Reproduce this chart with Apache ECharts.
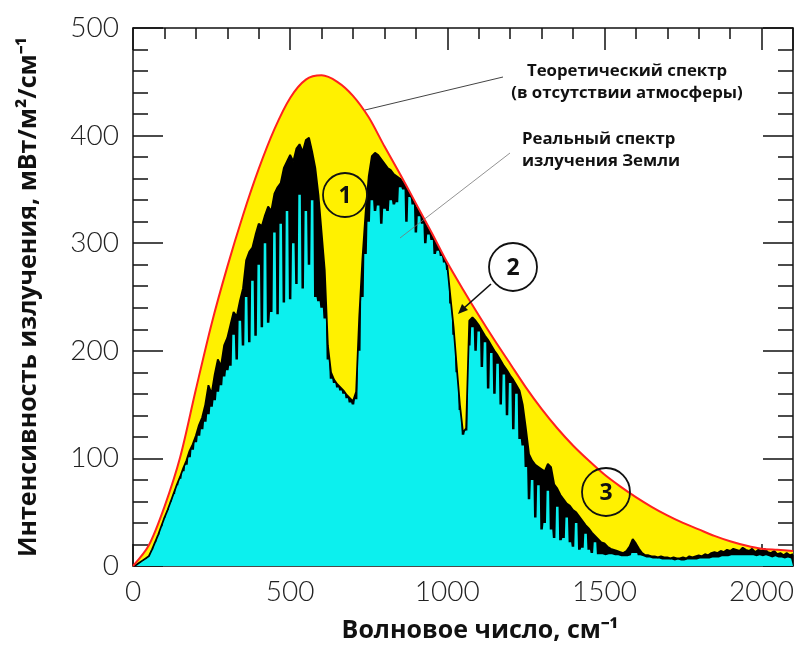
<!DOCTYPE html>
<html>
<head>
<meta charset="utf-8">
<script src="https://cdn.jsdelivr.net/npm/echarts@6/dist/echarts.min.js"></script>
<style>
  html, body { margin: 0; padding: 0; background: #fff; }
  #chart { width: 803px; height: 650px; }
</style>
</head>
<body>
<div id="chart"></div>
<script>
// theoretical spectrum (no atmosphere), read every 50 cm-1
const theoryWn = [0, 50, 100, 150, 200, 250, 300, 350, 400, 450, 500, 550, 600, 650, 700,
  750, 800, 850, 900, 950, 1000, 1050, 1100, 1150, 1200, 1250, 1300, 1350, 1400, 1450,
  1500, 1550, 1600, 1650, 1700, 1750, 1800, 1850, 1900, 1950, 2000, 2050, 2100];
const theoryVal = [0, 19, 55, 101, 164, 225, 278, 326, 369, 406, 435, 452, 456, 450, 437,
  417, 390, 364, 337, 310, 282, 257, 233, 210, 188, 166, 146, 128, 112, 98,
  85, 74, 64, 55, 47, 40, 34, 28, 23, 19, 16, 15, 14];

// real spectrum, upper edge of the lines, every 10 cm-1 (0 ... 2100)
const realTop = [
  0, 1, 3, 5, 7, 9, 15, 22, 29, 37,               // 0
  45, 52, 60, 68, 76, 83, 91, 98, 107, 113,       // 100
  121, 131, 138, 150, 168, 160, 178, 192, 186, 205, // 200
  212, 224, 236, 232, 246, 258, 284, 292, 296, 308, // 300
  318, 316, 326, 334, 330, 346, 352, 356, 370, 376, // 400
  382, 376, 388, 392, 385, 396, 398, 385, 370, 345, // 500
  310, 275, 205, 180, 173, 169, 166, 163, 159, 156, // 600
  153, 162, 232, 285, 328, 362, 381, 384, 382, 378, // 700
  374, 370, 368, 364, 362, 360, 356, 351, 346, 340, // 800
  334, 329, 324, 318, 313, 307, 302, 297, 291, 286, // 900
  279, 250, 222, 185, 150, 124, 128, 228, 231, 228, // 1000
  224, 219, 214, 210, 205, 200, 196, 191, 186, 182, // 1100
  177, 173, 168, 163, 150, 128, 104, 98, 94, 92,    // 1200
  90, 88, 95, 92, 76, 72, 66, 62, 58, 56,           // 1300
  52, 50, 46, 42, 38, 35, 31, 28, 25, 22,           // 1400
  21, 18, 16, 15, 14, 13, 12, 14, 18, 25,           // 1500
  21, 16, 12, 10, 10, 9, 9, 8, 9, 8,                // 1600
  8, 7, 8, 7, 7, 8, 7, 9, 8, 9,                     // 1700
  10, 9, 11, 10, 12, 13, 12, 14, 13, 15,            // 1800
  14, 16, 15, 14, 17, 15, 14, 16, 13, 15,           // 1900
  14, 16, 13, 12, 14, 11, 12, 10, 12, 10,           // 2000
  11
];
// real spectrum, level the radiation reaches between the lines (same wavenumbers)
const realTrough = [
  0, 1, 3, 5, 7, 9, 15, 22, 29, 37,
  45, 52, 60, 67, 75, 81, 88, 94, 101, 108,
  115, 121, 127, 134, 141, 148, 154, 162, 168, 176,
  182, 186, 215, 192, 228, 205, 250, 208, 265, 214,
  280, 222, 300, 226, 236, 310, 234, 318, 245, 330,
  248, 300, 262, 345, 258, 330, 280, 340, 250, 246,
  240, 230, 192, 174, 170, 166, 163, 160, 156, 152,
  150, 155, 200, 250, 290, 320, 340, 330, 335, 318,
  332, 330, 340, 336, 338, 352, 350, 320, 343, 336,
  310, 325, 318, 300, 308, 303, 290, 293, 288, 282,
  275, 244, 215, 180, 145, 122, 126, 205, 222, 200,
  218, 185, 208, 165, 198, 160, 188, 150, 178, 140,
  170, 127, 160, 118, 112, 92, 62, 80, 45, 75,
  34, 40, 70, 34, 26, 55, 24, 26, 45, 22,
  18, 40, 15, 17, 30, 15, 12, 22, 11, 11,
  10, 11, 11, 10, 10, 9, 9, 9, 10, 12,
  12, 10, 9, 8, 8, 7, 7, 7, 6, 6,
  6, 6, 5, 6, 5, 5, 6, 6, 6, 6,
  7, 7, 7, 7, 8, 8, 8, 9, 9, 9,
  10, 10, 10, 10, 10, 10, 10, 10, 9, 10,
  9, 10, 9, 8, 9, 8, 8, 7, 8, 7,
  8
];

const xTicks = [0, 500, 1000, 1500, 2000];
const yTicks = [0, 100, 200, 300, 400, 500];

const YELLOW = '#fff100';
const CYAN = '#0cf0ee';
const RED = '#ff2020';
const INK = '#111';

const realWn = realTop.map((_, i) => i * 10);
const theoryPts = theoryWn.map((w, i) => [w, theoryVal[i]]);
const topPts = realWn.map((w, i) => [w, realTop[i]]);
// cyan fill: a short flat step at each trough level
// (step kept a bit over 2px wide so the renderer does not drop it)
const cyanPts = [];
realWn.forEach((w, i) => {
  cyanPts.push([Math.max(0, w - 4), realTrough[i]]);
  cyanPts.push([Math.min(2100, w + 4), realTrough[i]]);
});

const tickFont = { fontSize: 28, color: '#222', fontFamily: 'Lato', fontWeight: 300 };
const nameFont = { fontSize: 25, color: '#111', fontFamily: '"Open Sans"', fontWeight: 'bold' };
const line = { color: INK, width: 1.5 };

function xAx(pos, interval, len, extra) {
  return Object.assign({
    type: 'value', position: pos, min: 0, max: 2100, interval: interval,
    axisLine: { show: true, onZero: false, lineStyle: line },
    axisTick: { show: true, inside: true, length: len, lineStyle: line },
    axisLabel: { show: false },
    splitLine: { show: false }
  }, extra || {});
}
function yAx(pos, extra) {
  return Object.assign({
    type: 'value', position: pos, min: 0, max: 500, interval: 100,
    axisLine: { show: true, onZero: false, lineStyle: line },
    axisTick: { show: true, inside: true, length: 30, lineStyle: line },
    minorTick: { show: true, splitNumber: 5, length: 15, lineStyle: line },
    axisLabel: { show: false },
    splitLine: { show: false }
  }, extra || {});
}

const chart = echarts.init(document.getElementById('chart'), null, { renderer: 'canvas' });

const annoFont = 'bold 16.8px "Open Sans"';
const digitFont = 'bold 23px "Open Sans"';

chart.setOption({
  animation: false,
  backgroundColor: '#fff',
  grid: { left: 133, right: 10, top: 28, bottom: 84 },
  xAxis: [
    xAx('bottom', 500, 22, {
      axisLabel: Object.assign({ show: true, margin: 12, showMaxLabel: false,
        formatter: v => (xTicks.indexOf(v) >= 0 ? String(v) : '') }, tickFont),
      name: 'Волновое число, см⁻¹', nameLocation: 'middle', nameGap: 52,
      nameTextStyle: Object.assign({ padding: [0, 0, 0, 34] }, nameFont)
    }),
    xAx('bottom', 100, 11, { axisLine: { show: false, onZero: false } }),
    xAx('top', 500, 22),
    xAx('top', 100, 11, { axisLine: { show: false, onZero: false } })
  ],
  yAxis: [
    yAx('left', {
      axisLabel: Object.assign({ show: true, margin: 14,
        formatter: v => (yTicks.indexOf(v) >= 0 ? String(v) : '') }, tickFont),
      name: 'Интенсивность излучения, мВт/м²/см⁻¹', nameLocation: 'middle',
      nameRotate: 90, nameGap: 92, nameTextStyle: nameFont
    }),
    yAx('right')
  ],
  series: [
    { // theoretical spectrum fill
      type: 'line', data: theoryPts, smooth: 0.3, symbol: 'none',
      lineStyle: { opacity: 0 }, areaStyle: { color: YELLOW, opacity: 1 }
    },
    { // dense absorption lines (black)
      type: 'line', data: topPts, symbol: 'none',
      lineStyle: { opacity: 0 }, areaStyle: { color: '#000', opacity: 1 }
    },
    { // radiation between the lines
      type: 'line', data: cyanPts, symbol: 'none',
      lineStyle: { opacity: 0 }, areaStyle: { color: CYAN, opacity: 1 }
    },
    { // real spectrum outline
      type: 'line', data: topPts, symbol: 'none',
      lineStyle: { color: '#000', width: 1.8 }
    },
    { // theoretical curve
      type: 'line', data: theoryPts, smooth: 0.3, symbol: 'none',
      lineStyle: { color: RED, width: 2 }
    }
  ],
  graphic: {
    elements: [
      { type: 'line', z: 100, shape: { x1: 503, y1: 77, x2: 365, y2: 110 }, style: { stroke: '#444', lineWidth: 1 } },
      { type: 'line', z: 100, shape: { x1: 510, y1: 153, x2: 400, y2: 238 }, style: { stroke: '#777', lineWidth: 0.8 } },
      { type: 'text', z: 100, x: 627, y: 60, style: { text: 'Теоретический спектр\n(в отсутствии атмосферы)',
        align: 'center', verticalAlign: 'top', lineHeight: 22, fill: '#111', font: annoFont } },
      { type: 'text', z: 100, x: 522, y: 128, style: { text: 'Реальный спектр\nизлучения Земли',
        align: 'left', verticalAlign: 'top', lineHeight: 22, fill: '#111', font: annoFont } },
      { type: 'circle', z: 100, shape: { cx: 345, cy: 195, r: 22 }, style: { fill: 'none', stroke: INK, lineWidth: 1.8 } },
      { type: 'text', z: 101, x: 345, y: 196, style: { text: '1', align: 'center', verticalAlign: 'middle', fill: '#111', font: digitFont } },
      { type: 'circle', z: 100, shape: { cx: 513, cy: 267, r: 24 }, style: { fill: 'none', stroke: INK, lineWidth: 1.8 } },
      { type: 'text', z: 101, x: 513, y: 268, style: { text: '2', align: 'center', verticalAlign: 'middle', fill: '#111', font: digitFont } },
      { type: 'circle', z: 100, shape: { cx: 606, cy: 492, r: 24 }, style: { fill: 'none', stroke: INK, lineWidth: 1.8 } },
      { type: 'text', z: 101, x: 606, y: 493, style: { text: '3', align: 'center', verticalAlign: 'middle', fill: '#111', font: digitFont } },
      { type: 'line', z: 100, shape: { x1: 491, y1: 284, x2: 464, y2: 308 }, style: { stroke: INK, lineWidth: 1.6 } },
      { type: 'polygon', z: 100, shape: { points: [[458, 314], [468, 310], [462, 304]] }, style: { fill: INK } }
    ]
  }
});
</script>
</body>
</html>
